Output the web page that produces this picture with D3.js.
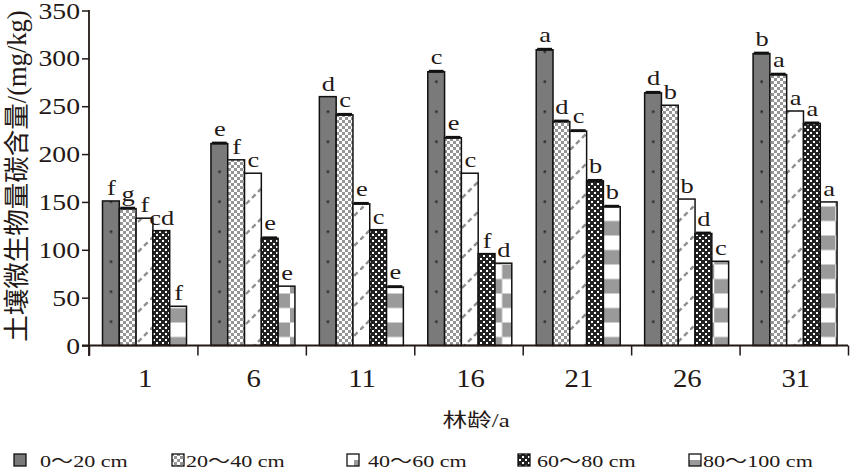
<!DOCTYPE html>
<html><head><meta charset="utf-8">
<script src="https://cdn.jsdelivr.net/npm/d3@7"></script>
<style>
html,body{margin:0;padding:0;background:#fff;}
text{font-family:"Liberation Serif","Times New Roman","Noto Sans CJK SC",serif;fill:#231815;}
</style></head>
<body><svg id="c" width="850" height="471"></svg>
<script>
const ages = ["1","6","11","16","21","26","31"];
const seriesNames = ["0～20 cm","20～40 cm","40～60 cm","60～80 cm","80～100 cm"];
const s0 = [151,211,260,286,309,264,305];
const s1 = [143,194,241,217,234,251,283];
const s2 = [133,180,148,180,224,153,245];
const s3 = [120,112,121,96,172,117,232];
const s4 = [41,62,61,86,145,88,150];
const e0 = [0,2,0,2,2,2,2];
const e1 = [2,0,2,2,2,0,2];
const e2 = [0,0,2,0,2,0,0];
const e3 = [0,2,0,0,2,2,2];
const e4 = [0,0,2,0,2,0,0];
const l0 = ["f","e","d","c","a","d","b"];
const l1 = ["g","f","c","e","d","b","a"];
const l2 = ["f","c","e","c","c","b","a"];
const l3 = ["cd","e","c","f","b","d","a"];
const l4 = ["f","e","e","d","b","c","a"];
const yTicks = [0,50,100,150,200,250,300,350];
const yTitle = "土壤微生物量碳含量/(mg/kg)";
const xTitle = "林龄/a";

const values = [s0,s1,s2,s3,s4];
const errors = [e0,e1,e2,e3,e4];
const letters = [l0,l1,l2,l3,l4];

const svg = d3.select("#c");
const defs = svg.append("defs");
const ink = "#231815";

const y = d3.scaleLinear().domain([0,350]).range([345.5,10.5]);
const x0 = d3.scaleBand().domain(ages).range([89,848]).padding(0);
const x1 = d3.scaleBand().domain(d3.range(5)).range([13.5,97.5]).padding(0);
const xIdx = d3.scaleLinear().domain([0,7]).range([89,848]);

// patterns
let p = defs.append("pattern").attr("id","p1").attr("patternUnits","userSpaceOnUse").attr("width",6).attr("height",6);
p.append("rect").attr("width",6).attr("height",6).attr("fill","#fff");
p.append("rect").attr("width",3).attr("height",3).attr("fill","#959595");
p.append("rect").attr("x",3).attr("y",3).attr("width",3).attr("height",3).attr("fill","#959595");

p = defs.append("pattern").attr("id","p2").attr("patternUnits","userSpaceOnUse").attr("width",30).attr("height",30);
p.append("rect").attr("width",30).attr("height",30).attr("fill","#fff");
p.append("line").attr("x1",0).attr("y1",30).attr("x2",30).attr("y2",0).attr("stroke","#8f8f8f").attr("stroke-width",2.4).attr("stroke-dasharray","5,3.5");

p = defs.append("pattern").attr("id","p3").attr("patternUnits","userSpaceOnUse").attr("width",6).attr("height",6);
p.append("rect").attr("width",6).attr("height",6).attr("fill","#222");
p.append("rect").attr("x",0).attr("y",0).attr("width",2).attr("height",2).attr("fill","#fff");
p.append("rect").attr("x",3).attr("y",3).attr("width",2).attr("height",2).attr("fill","#fff");

p = defs.append("pattern").attr("id","p4").attr("patternUnits","userSpaceOnUse")
  .attr("x",168.8).attr("y",3.5).attr("width",60.6).attr("height",29);
p.append("rect").attr("width",60.6).attr("height",29).attr("fill","#fff");
p.append("rect").attr("x",0).attr("y",14.5).attr("width",30.3).attr("height",14.5).attr("fill","#9a9a9a");
p.append("rect").attr("x",30.3).attr("y",0).attr("width",30.3).attr("height",14.5).attr("fill","#9a9a9a");

function s0Pattern(id, bx, bw){
  const q = defs.append("pattern").attr("id",id).attr("patternUnits","userSpaceOnUse")
    .attr("x",bx).attr("y",345.5).attr("width",bw).attr("height",30);
  q.append("rect").attr("width",bw).attr("height",30).attr("fill","#7a7a7a");
  q.append("rect").attr("x",bw/2-1).attr("y",5).attr("width",2.4).attr("height",2.4).attr("fill","#2a2a2a");
}

const g = svg.append("g");
const bw = x1.bandwidth();

values.forEach((vals,si)=>{
  vals.forEach((v,gi)=>{
    const bx = x0(ages[gi]) + x1(si);
    let fill;
    if(si===0){ const id="p0_"+gi; s0Pattern(id,bx,bw); fill="url(#"+id+")"; }
    else fill = "url(#p"+si+")";
    g.append("rect").attr("x",bx).attr("y",y(v)).attr("width",bw).attr("height",y(0)-y(v))
      .attr("fill",fill).attr("stroke","#111").attr("stroke-width",1.5);
    const e = errors[si][gi];
    if(e>0){
      g.append("rect").attr("x",bx+1).attr("y",y(v+e)).attr("width",bw-2).attr("height",y(v)-y(v+e)+1).attr("fill","#111");
    }
    const ty = y(v+e) - 6;
    g.append("text").attr("transform",`translate(${bx+bw/2+0.5},${ty}) scale(1.2,1)`)
      .attr("text-anchor","middle").attr("font-size",22).text(letters[si][gi]);
  });
});

// y axis
const ya = svg.append("g").attr("transform","translate(89,0)")
  .call(d3.axisLeft(y).tickValues(yTicks).tickSize(7).tickSizeOuter(0).tickFormat(""));
ya.select(".domain").remove();
ya.selectAll(".tick line").attr("stroke",ink).attr("stroke-width",1.5);
svg.append("line").attr("x1",89).attr("x2",89).attr("y1",10).attr("y2",356).attr("stroke",ink).attr("stroke-width",1.8);
yTicks.forEach(t=>{
  svg.append("text").attr("transform",`translate(80,${y(t)+8}) scale(1.18,1)`)
    .attr("text-anchor","end").attr("font-size",23.5).text(t);
});

// x axis
const xa = svg.append("g").attr("transform","translate(0,345.5)")
  .call(d3.axisBottom(xIdx).tickValues(d3.range(8)).tickSize(10).tickSizeOuter(0).tickFormat(""));
xa.select(".domain").remove();
xa.selectAll(".tick line").attr("stroke",ink).attr("stroke-width",1.5);
svg.append("line").attr("x1",82).attr("x2",848).attr("y1",345.5).attr("y2",345.5).attr("stroke",ink).attr("stroke-width",1.8);
ages.forEach(a=>{
  svg.append("text").attr("transform",`translate(${x0(a)+x0.bandwidth()/2+2},387) scale(1.15,1)`)
    .attr("text-anchor","middle").attr("font-size",25).text(a);
});

// titles
svg.append("text").attr("transform","translate(476,427) scale(1.3,1)").attr("text-anchor","middle").attr("font-size",19).text(xTitle);
svg.append("text").attr("transform","translate(26,176) rotate(-90)").attr("text-anchor","middle").attr("font-size",26.5).text(yTitle);

// legend
const legSw = [14,172,347,518,689];
const legTx = [40,186,368,537,703];
seriesNames.forEach((n,i)=>{
  const sx = legSw[i], sy = 454;
  const base = i===0 ? "#7a7a7a" : (i===1 ? "url(#p1)" : (i===3 ? "url(#p3)" : "#fff"));
  svg.append("rect").attr("x",sx).attr("y",sy).attr("width",12).attr("height",12).attr("fill",base);
  if(i===2) svg.append("rect").attr("x",sx+7).attr("y",sy+6).attr("width",5).attr("height",6).attr("fill","#9a9a9a");
  if(i===4) svg.append("rect").attr("x",sx).attr("y",sy+6).attr("width",12).attr("height",6).attr("fill","#9a9a9a");
  svg.append("rect").attr("x",sx).attr("y",sy).attr("width",12).attr("height",12)
    .attr("fill","none").attr("stroke","#111").attr("stroke-width",1.3);
  svg.append("text").attr("transform",`translate(${legTx[i]},467) scale(1.3,1)`).attr("font-size",17).text(n);
});
</script></body></html>
